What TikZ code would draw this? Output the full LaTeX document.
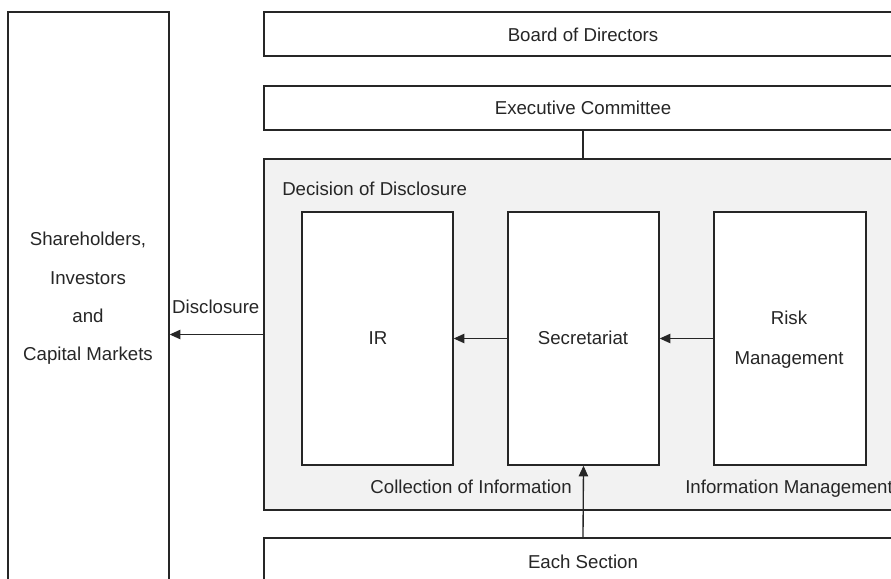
\documentclass[tikz,border=0pt]{standalone}
\usepackage{fontspec}
\setmainfont{Liberation Sans}
\usetikzlibrary{arrows.meta,fit}
\definecolor{linec}{HTML}{262626}
\definecolor{txtc}{HTML}{262626}
\definecolor{grayc}{HTML}{F2F2F2}
\begin{document}
\begin{tikzpicture}[x=0.75pt,y=-0.75pt,
  box/.style={draw=linec, line width=1pt, inner sep=0pt, fill=white},
  lbl/.style={text=txtc, font=\fontsize{14}{16.8}\selectfont, inner sep=0pt},
  conn/.style={draw=linec, line width=1pt},
  arr/.style={conn, -{Triangle[length=8pt,width=7pt]}}]
\fill[white] (0,0) rectangle (891,578);
\clip (0,0) rectangle (891,578);
% boxes
\node[box, fit={(8,12)(169,600)}] (share) {};
\node[box, fit={(264,12)(902,56)}] (board) {};
\node[box, fit={(264,86)(902,130)}] (exec) {};
\node[box, fill=grayc, fit={(264,159)(902,510)}] (decision) {};
\node[box, fit={(302,212)(453,465)}] (ir) {};
\node[box, fit={(508,212)(659,465)}] (sec) {};
\node[box, fit={(714,212)(866,465)}] (risk) {};
\node[box, fit={(264,538)(902,582)}] (each) {};
% texts
\node[lbl, anchor=base] (tboard) at (583,41) {Board of Directors};
\node[lbl, anchor=base] (texec) at (583,114.5) {Executive Committee};
\node[lbl, anchor=base west] (tdec) at (282,195) {Decision of Disclosure};
\node[lbl, anchor=base] (tir) at (378,344) {IR};
\node[lbl, anchor=base] (tsec) at (583,344) {Secretariat};
\node[lbl, align=center, font=\fontsize{14}{30}\selectfont] (trisk) at (789,340) {Risk\\Management};
\node[lbl, align=center, font=\fontsize{14}{28.75}\selectfont] (tshare) at (88,298.5) {Shareholders,\\Investors\\and\\Capital Markets};
\node[lbl, anchor=base] (tdisc) at (215.8,313.5) {Disclosure};
\node[lbl, anchor=base east] (tcoll) at (572,493) {Collection of Information};
\node[lbl, anchor=base west] (tinfo) at (685,493) {Information Management};
\node[lbl, anchor=base] (teach) at (583,568) {Each Section};
% connectors
\draw[conn] (exec.south) -- (decision.north);
\draw[arr] (decision.west) -- (share.east |- decision.west);
\draw[arr] (sec.west) -- (ir.east);
\draw[arr] (risk.west) -- (sec.east);
\draw[arr] (each.north) -- (sec.south);
\end{tikzpicture}
\end{document}
